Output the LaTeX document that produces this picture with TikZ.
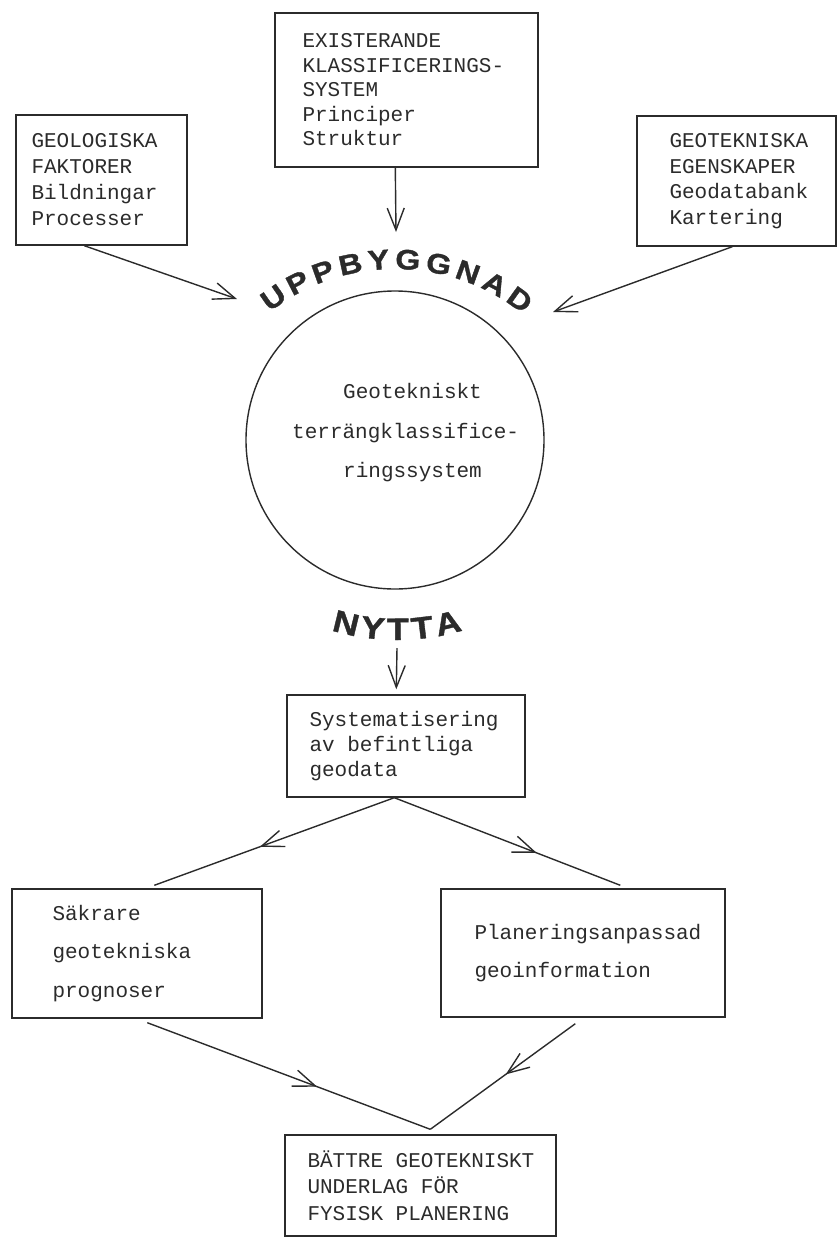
\documentclass[tikz,border=0pt]{standalone}
\usepackage{fontspec}
\newfontfamily\mono{Liberation Mono}
\newfontfamily\letra{Liberation Sans}[FakeStretch=1.15, BoldFeatures={FakeBold=1.2}]
\usetikzlibrary{arrows.meta,decorations.text,decorations.markings,calc}
\definecolor{ink}{HTML}{2B2B2B}
\begin{document}
\begin{tikzpicture}[x=1pt,y=1pt,color=ink,
  box/.style={draw, rectangle, inner sep=0pt, line width=1.4pt},
  txt/.style={font=\mono\fontsize{21}{25.5}\selectfont, align=left, inner sep=0pt, anchor=west},
  arr/.style={line width=1.4pt, -{Straight Barb[length=22pt,width=17pt]}},
  midarr/.style={line width=1.4pt, postaction={decorate},
    decoration={markings, mark=at position #1 with {\arrow{Straight Barb[length=22pt,width=17pt]}}}}]
\useasboundingbox (0,0) rectangle (838,-1237);

% boxes
\node[box, minimum width=263, minimum height=154] (exi) at (406.5,-90) {};
\node[box, minimum width=171, minimum height=130] (geo) at (101.5,-180) {};
\node[box, minimum width=199, minimum height=130] (gtk) at (736.5,-181) {};
\node[draw, circle, inner sep=0pt, line width=1.4pt, minimum size=298] (circ) at (395,-440) {};
\node[box, minimum width=238, minimum height=102] (sys) at (406,-746) {};
\node[box, minimum width=250, minimum height=129] (sak) at (137,-953.5) {};
\node[box, minimum width=284, minimum height=128] (pla) at (583,-953) {};
\node[box, minimum width=271, minimum height=101] (bat) at (420.5,-1185.5) {};

% texts
\node[txt, font=\mono\fontsize{21}{24.5}\selectfont] (exit) at ($(exi.west)+(28,0)$)
  {EXISTERANDE\\KLASSIFICERINGS-\\SYSTEM\\Principer\\Struktur};
\node[txt, font=\mono\fontsize{21}{26}\selectfont] (geot) at ($(geo.west)+(16,0)$)
  {GEOLOGISKA\\FAKTORER\\Bildningar\\Processer};
\node[txt, font=\mono\fontsize{21}{25.7}\selectfont] (gtkt) at ($(gtk.west)+(33,0)$)
  {GEOTEKNISKA\\EGENSKAPER\\Geodatabank\\Kartering};
\node[txt, font=\mono\fontsize{21}{39.5}\selectfont] (circt) at ($(circ.center)+(-103,7)$)
  {\hspace*{51pt}Geotekniskt\\terrängklassifice-\\\hspace*{51pt}ringssystem};
\node[txt, font=\mono\fontsize{21}{25}\selectfont] (syst) at ($(sys.west)+(23,0)$)
  {Systematisering\\av befintliga\\geodata};
\node[txt, font=\mono\fontsize{21}{38.5}\selectfont] (sakt) at ($(sak.west)+(41,0)$)
  {Säkrare\\geotekniska\\prognoser};
\node[txt, font=\mono\fontsize{21}{38}\selectfont] (plat) at ($(pla.west)+(34,0)$)
  {Planeringsanpassad\\geoinformation};
\node[txt, font=\mono\fontsize{21}{26.5}\selectfont] (batt) at ($(bat.west)+(23,0)$)
  {BÄTTRE GEOTEKNISKT\\UNDERLAG FÖR\\FYSISK PLANERING};

% curved labels
\path[decorate, decoration={text along path,
    text={|\letra\bfseries\fontsize{28}{32}\selectfont\color{ink}|UPPBYGGNAD},
    text align={fit to path}}]
  (395,-473) ++(128:204) arc[start angle=128, end angle=51, radius=204];
\path[decorate, decoration={text along path,
    text={|\letra\bfseries\fontsize{31}{35}\selectfont\color{ink}|NYTTA},
    text align={fit to path}}]
  (397,-415) ++(253:225) arc[start angle=253, end angle=287, radius=225];

% free ends
\coordinate (uppL) at (237,-299);
\coordinate (uppT) at (396,-232);
\coordinate (uppR) at (553,-312);
\coordinate (nyt) at (397,-648);
\coordinate (meet) at ($(bat.north west)+(146,5)$);

% connectors
\draw[arr] ($(geo.south west)+(69,0)$) -- (uppL);
\draw[arr] ($(exi.south west)+(121,0)$) -- (uppT);
\draw[arr] ($(gtk.south west)+(96,0)$) -- (uppR);
\draw[arr] (nyt) -- ($(sys.north west)+(110,5)$);
\draw[midarr=0.56] ($(sys.south west)+(108,0)$) -- ($(sak.north west)+(143,3)$);
\draw[midarr=0.63] ($(sys.south west)+(108,0)$) -- ($(pla.north west)+(180,3)$);
\draw[midarr=0.6] ($(sak.south west)+(136,-4)$) -- (meet);
\draw[midarr=0.48] ($(pla.south west)+(135,-6)$) -- (meet);
\end{tikzpicture}
\end{document}
